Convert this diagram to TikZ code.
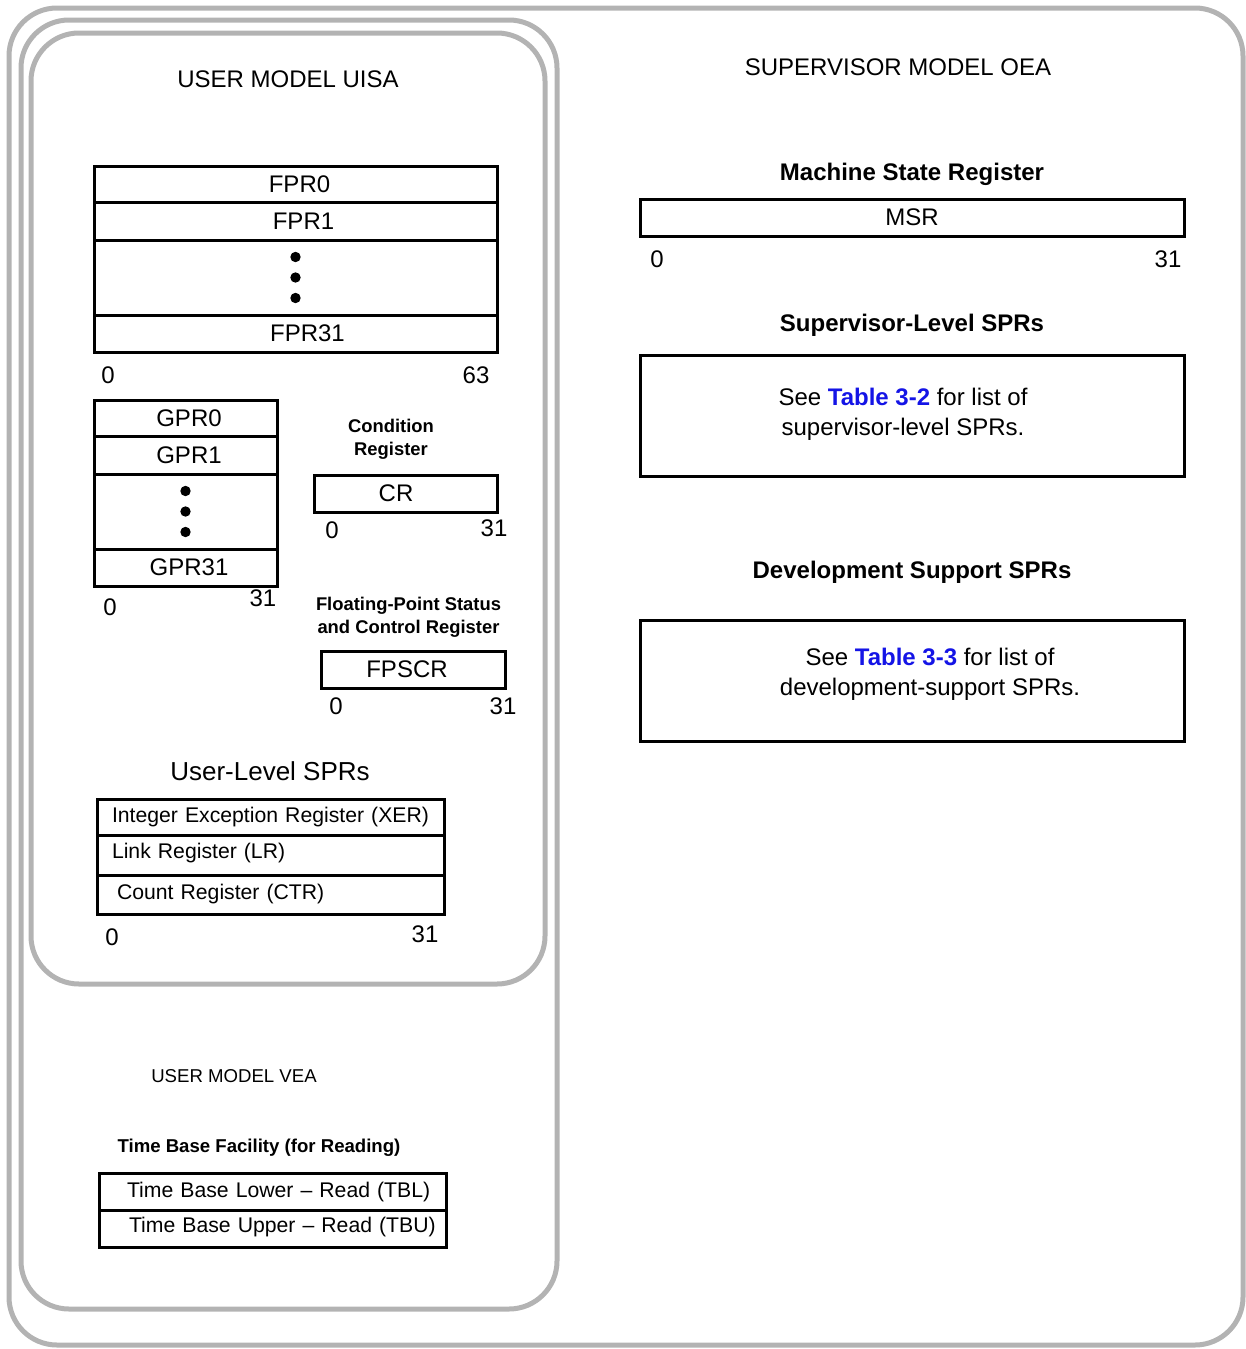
\documentclass[tikz,border=0pt]{standalone}
\usepackage{fontspec}
\setmainfont{Liberation Sans}
\usepackage{xcolor}
\usepackage{tikz}
\usetikzlibrary{positioning}
\definecolor{framegray}{HTML}{B3B3B3}
\definecolor{linkblue}{HTML}{1414E6}
\newcommand{\tabref}[1]{\textcolor{linkblue}{\bfseries #1}}

\begin{document}
\begin{tikzpicture}[
  x=0.5pt,y=-0.5pt,
  frame/.style={draw=framegray,line width=2.5pt,rounded corners=24pt},
  reg/.style={rectangle,draw,line width=1.5pt,outer sep=0pt,inner sep=0pt,font=\fontsize{12}{14}\selectfont},
  fprrow/.style={reg,minimum width=201.5pt},
  gprrow/.style={reg,minimum width=91.5pt},
  sprrow/.style={reg,align=left,text width=158.5pt,inner xsep=7.5pt,font=\fontsize{10.6}{12}\selectfont},
  tbrow/.style={sprrow,text width=145.5pt,inner xsep=14pt},
  infobox/.style={reg,minimum width=272pt,minimum height=60.5pt},
  infotext/.style={align=center,font=\fontsize{12}{15}\selectfont},
  bit/.style={inner sep=0pt,font=\fontsize{12}{14}\selectfont},
  model/.style={font=\fontsize{12}{14}\selectfont},
  head/.style={align=center,font=\bfseries\fontsize{9.2}{11.5}\selectfont},
  bighead/.style={font=\bfseries\fontsize{12}{14}\selectfont},
  node distance=0pt
]
\useasboundingbox (0,0) rectangle (1246,1349);

% model frames
\draw[frame] (9,8) rectangle (1243,1345);
\draw[frame] (21,20) rectangle (557,1309);
\draw[frame] (31,33) rectangle (545,984);

\node[model] (uisa) at (288,79) {USER MODEL UISA};
\node[model] (oea) at (898,67) {SUPERVISOR MODEL OEA};

% floating-point registers
\node[fprrow,minimum height=18pt] (fpr0) at (295.5,184) {\hspace*{4pt}FPR0};
\node[fprrow,minimum height=19pt,below=of fpr0] (fpr1) {\hspace*{8pt}FPR1};
\node[fprrow,minimum height=37.5pt,below=of fpr1] (fprdots) {};
\node[fprrow,minimum height=18.5pt,below=of fprdots] (fpr31) {\hspace*{12pt}FPR31};
\foreach \dy in {-10.25,0,10.25}
  \fill ([yshift=\dy pt]fprdots.center) circle (2.6pt);
\node[bit] (fprlo) at (108,375) {0};
\node[bit] (fprhi) at (476,375) {63};

% general-purpose registers
\node[gprrow,minimum height=18pt] (gpr0) at (185.5,418) {\hspace*{3.5pt}GPR0};
\node[gprrow,minimum height=19pt,below=of gpr0] (gpr1) {\hspace*{3.5pt}GPR1};
\node[gprrow,minimum height=37.5pt,below=of gpr1] (gprdots) {};
\node[gprrow,minimum height=18.5pt,below=of gprdots] (gpr31) {\hspace*{3.5pt}GPR31};
\foreach \dy in {-10.25,0,10.25}
  \fill ([yshift=\dy pt]gprdots.center) circle (2.6pt);
\node[bit] (gprlo) at (110,607) {0};
\node[bit] (gprhi) at (263,598) {31};

% condition register
\node[head] (crhead) at (391,439.5) {Condition\\Register};
\node[gprrow,minimum height=18.5pt] (cr) at (405.5,493.5) {CR\hspace*{9.5pt}};
\node[bit] (crlo) at (332,530) {0};
\node[bit] (crhi) at (494,528) {31};

% FPSCR
\node[head] (fpscrhead) at (408.5,617.5) {Floating-Point Status\\and Control Register};
\node[reg,minimum width=92pt,minimum height=18.5pt] (fpscr) at (413,669.5) {FPSCR\hspace*{6pt}};
\node[bit] (fpscrlo) at (336,706) {0};
\node[bit] (fpscrhi) at (503,706) {31};

% user-level SPRs
\node[font=\fontsize{13}{15}\selectfont] (usrhead) at (270,771) {User-Level SPRs};
\node[sprrow,minimum height=18pt] (xer) at (270.5,817) {Integer Exception Register (XER)};
\node[sprrow,minimum height=20pt,below=of xer] (lr) {\raisebox{4pt}{Link Register (LR)}};
\node[sprrow,minimum height=19.5pt,below=of lr] (ctr) {\hspace*{2.5pt}Count Register (CTR)};
\node[bit] (sprlo) at (112,937) {0};
\node[bit] (sprhi) at (425,934) {31};

% VEA time base
\node[font=\fontsize{9.3}{11}\selectfont] (vea) at (234,1076) {USER MODEL VEA};
\node[head,font=\bfseries\fontsize{9.3}{11}\selectfont] (tbhead) at (259,1148) {Time Base Facility (for Reading)};
\node[tbrow,minimum height=18.5pt] (tbl) at (272.5,1191.5) {\mbox{Time Base Lower -- Read (TBL)}};
\node[tbrow,minimum height=18.5pt,below=of tbl] (tbu) {\mbox{\hspace*{1pt}\raisebox{4pt}{Time Base Upper -- Read (TBU)}}};

% supervisor side
\node[bighead] (msrhead) at (912,174) {Machine State Register};
\node[reg,minimum width=272pt,minimum height=18.5pt] (msr) at (912,217.5) {MSR};
\node[bit] (msrlo) at (657,259) {0};
\node[bit] (msrhi) at (1168,259) {31};

\node[bighead] (suphead) at (912,325) {Supervisor-Level SPRs};
\node[infobox] (supbox) at (912,415.5) {};
\node[infotext] (suptext) at (903,414) {See \tabref{Table 3-2} for list of\\supervisor-level SPRs.};

\node[bighead] (devhead) at (912,572) {Development Support SPRs};
\node[infobox] (devbox) at (912,680.5) {};
\node[infotext] (devtext) at (930,674) {See \tabref{Table 3-3} for list of\\development-support SPRs.};
\end{tikzpicture}
\end{document}
